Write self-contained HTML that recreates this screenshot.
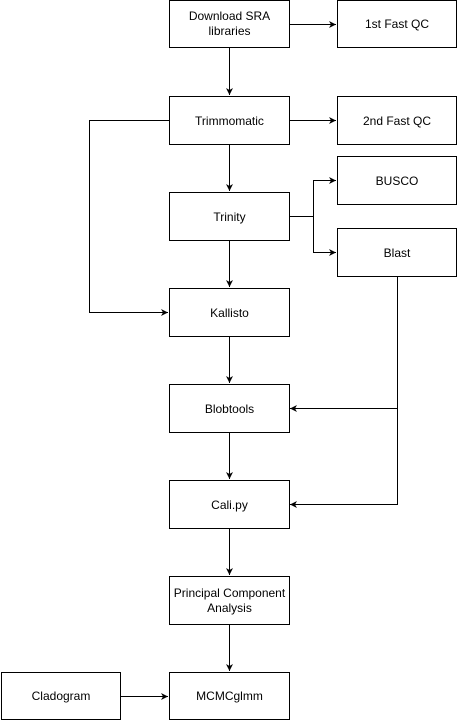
<!DOCTYPE html>
<html><head><style>body{margin:0;background:#fff}svg{display:block}text{font-family:"Liberation Sans",Arial,sans-serif;font-size:12px;fill:#000}</style></head><body>
<svg width="457" height="721" viewBox="0 0 457 721" xmlns="http://www.w3.org/2000/svg">
<defs><marker id="a" markerWidth="8" markerHeight="8" refX="7" refY="4" orient="auto" markerUnits="userSpaceOnUse"><path d="M0,0.5 L7,4 L0,7.5 L2,4 Z" fill="#000"/></marker></defs>
<g fill="#fff" stroke="#000" stroke-width="1">
<rect x="169.5" y="0.5" width="120" height="47"/>
<rect x="337.5" y="0.5" width="119" height="47"/>
<rect x="169.5" y="96.5" width="120" height="48"/>
<rect x="337.5" y="96.5" width="119" height="48"/>
<rect x="169.5" y="192.5" width="120" height="48"/>
<rect x="337.5" y="156.5" width="119" height="48"/>
<rect x="337.5" y="228.5" width="119" height="48"/>
<rect x="169.5" y="288.5" width="120" height="48"/>
<rect x="169.5" y="384.5" width="120" height="48"/>
<rect x="169.5" y="480.5" width="120" height="48"/>
<rect x="169.5" y="576.5" width="120" height="48"/>
<rect x="169.5" y="672.5" width="120" height="47"/>
<rect x="1.5" y="672.5" width="119" height="47"/>
</g>
<g fill="none" stroke="#000" stroke-width="1" marker-end="url(#a)">
<path d="M289.5 24.5H336"/>
<path d="M229.5 48V95"/>
<path d="M289.5 120.5H336"/>
<path d="M229.5 144V191"/>
<path d="M169.5 120.5H89.5V312.5H168"/>
<path d="M229.5 240V287"/>
<path d="M289.5 216.5H313.5V180.5H336"/>
<path d="M313.5 216.5V252.5H336"/>
<path d="M229.5 336V383"/>
<path d="M397.5 276V408.5H290"/>
<path d="M397.5 408.5V504.5H290"/>
<path d="M229.5 432V479"/>
<path d="M229.5 528V575"/>
<path d="M229.5 624V671"/>
<path d="M120.5 696.5H168"/>
</g>
<g text-anchor="middle">
<text x="229.5" y="20">Download SRA</text><text x="229.5" y="35">libraries</text>
<text x="397" y="28">1st Fast QC</text>
<text x="229.5" y="125">Trimmomatic</text>
<text x="397" y="125">2nd Fast QC</text>
<text x="229.5" y="221">Trinity</text>
<text x="397" y="185">BUSCO</text>
<text x="397" y="257">Blast</text>
<text x="229.5" y="317">Kallisto</text>
<text x="229.5" y="413">Blobtools</text>
<text x="229.5" y="509">Cali.py</text>
<text x="229.5" y="597">Principal Component</text><text x="229.5" y="612">Analysis</text>
<text x="229.5" y="700">MCMCglmm</text>
<text x="61" y="700">Cladogram</text>
</g>
</svg>
</body></html>
